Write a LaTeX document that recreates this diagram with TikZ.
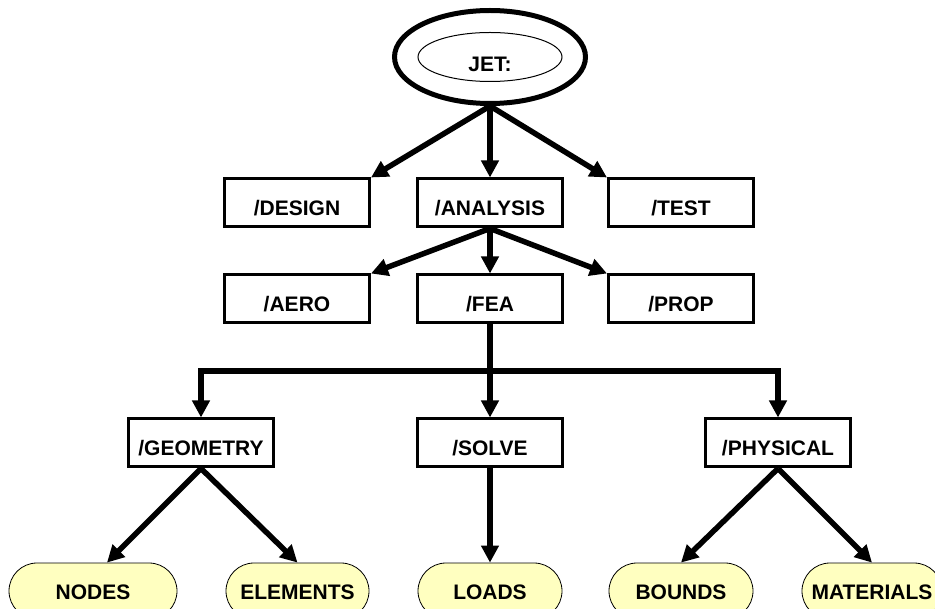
\documentclass[tikz,border=0pt]{standalone}
\usepackage{fontspec}
\setmainfont{Liberation Sans}
\usetikzlibrary{arrows.meta,shapes.geometric,shapes.misc}
\definecolor{pillyellow}{RGB}{255,255,192}
\begin{document}
\begin{tikzpicture}[x=1pt,y=-1pt,
  every node/.style={font=\bfseries\fontsize{21}{25}\selectfont},
  dirbox/.style={draw,line width=3pt,minimum width=145pt,minimum height=48pt,inner sep=0pt,text height=26pt,text depth=0pt},
  filepill/.style={draw,line width=0.8pt,fill=pillyellow,rounded rectangle,minimum height=56pt,inner sep=0pt,text height=16pt,text depth=0pt},
  link/.style={line width=5.5pt,-{Triangle[length=17pt,width=17pt]}}]
\useasboundingbox (0,0) rectangle (935,609);
% root
\node (jetring) [draw,ellipse,line width=5pt,minimum width=191pt,minimum height=93pt] at (490,57) {};
\node (jet) [draw,ellipse,line width=1pt,minimum width=144pt,minimum height=49pt,inner sep=0pt,text height=30pt,text depth=0pt] at (490,57) {JET:};
% directories
\node (design) [dirbox] at (297,203) {/DESIGN};
\node (analysis) [dirbox] at (490,203) {/ANALYSIS};
\node (test) [dirbox] at (681,203) {/TEST};
\node (aero) [dirbox] at (297,299) {/AERO};
\node (fea) [dirbox] at (490,299) {/FEA};
\node (prop) [dirbox] at (681,299) {/PROP};
\node (geometry) [dirbox] at (201,443) {/GEOMETRY};
\node (solve) [dirbox] at (490,443) {/SOLVE};
\node (physical) [dirbox] at (778,443) {/PHYSICAL};
% files
\node (nodes) [filepill,minimum width=168pt] at (93,591) {NODES};
\node (elements) [filepill,minimum width=143pt] at (297.5,591) {ELEMENTS};
\node (loads) [filepill,minimum width=144pt] at (490,591) {LOADS};
\node (bounds) [filepill,minimum width=144pt] at (681,591) {BOUNDS};
\node (materials) [filepill,minimum width=140pt] at (872,591) {MATERIALS};
% links
\draw [link] (jetring.south) -- (design.north east);
\draw [link] (jetring.south) -- (analysis.north);
\draw [link] (jetring.south) -- (test.north west);
\draw [link] (analysis.south) -- (aero.north east);
\draw [link] (analysis.south) -- (fea.north);
\draw [link] (analysis.south) -- (prop.north west);
\coordinate (fork) at (490,371);
\draw [link] (fea.south) -- (solve.north);
\draw [link] (fork) -| (geometry.north);
\draw [link] (fork) -| (physical.north);
\draw [link] (geometry.south) -- ([xshift=14pt]nodes.north);
\draw [link] (geometry.south) -- (elements.north);
\draw [link] (solve.south) -- (loads.north);
\draw [link] (physical.south) -- (bounds.north);
\draw [link] (physical.south) -- (materials.north);
\end{tikzpicture}
\end{document}
